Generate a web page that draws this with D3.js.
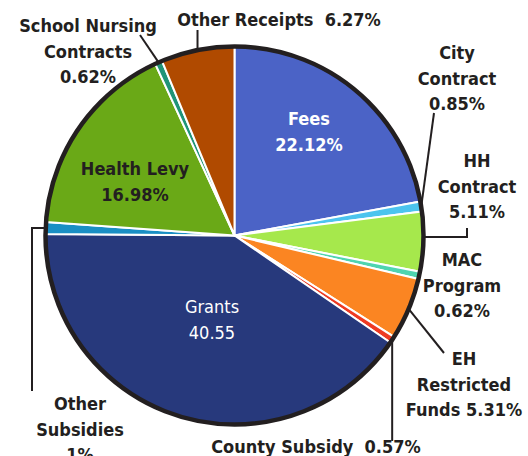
<!DOCTYPE html>
<html>
<head>
<meta charset="utf-8">
<script src="https://cdn.jsdelivr.net/npm/d3@7"></script>
<style>
  body { margin: 0; background: #fff; }
  text { font-family: "DejaVu Sans Condensed", "DejaVu Sans", sans-serif; font-weight: bold; font-size: 18px; fill: #231f20; white-space: pre; }
</style>
</head>
<body>
<svg id="chart" width="528" height="456"></svg>
<script>
// slices, clockwise from 12 o'clock
let names = ["Fees", "City Contract", "HH Contract", "MAC Program", "EH Restricted Funds",
             "County Subsidy", "Grants", "Other Subsidies", "Health Levy",
             "School Nursing Contracts", "Other Receipts"];
let values = [22.12, 0.85, 5.11, 0.62, 5.31, 0.57, 40.55, 1, 16.98, 0.62, 6.27];
let valueLabels = ["22.12%", "0.85%", "5.11%", "0.62%", "5.31%", "0.57%", "40.55", "1%", "16.98%", "0.62%", "6.27%"];
let colors = ["#4b63c6", "#4cc4ee", "#a6e84c", "#4ed4b0", "#fb8522", "#ee3a22",
              "#27397c", "#1a8fc4", "#6aa917", "#1f9478", "#b04a00"];

let svg = d3.select("#chart"),
    cx = 234.5, cy = 235.5, radius = 189;

let g = svg.append("g").attr("transform", "translate(" + cx + "," + cy + ")");

let pie = d3.pie().sort(null).value(d => d);
let arcs = pie(values);
let arc = d3.arc().innerRadius(0).outerRadius(radius);

g.selectAll("path.slice")
    .data(arcs)
    .enter()
    .append("path")
    .attr("class", "slice")
    .attr("d", arc)
    .attr("fill", (d, i) => colors[i])
    .attr("stroke", "#fff")
    .attr("stroke-width", 2)
    .attr("stroke-linejoin", "round");

// black outline
g.append("circle")
    .attr("r", radius)
    .attr("fill", "none")
    .attr("stroke", "#231f20")
    .attr("stroke-width", 4.5);

// point on the rim at the middle of slice i
function rim(i) {
    let a = (arcs[i].startAngle + arcs[i].endAngle) / 2;
    return [cx + radius * Math.sin(a), cy - radius * Math.cos(a)];
}

// label layout: lines of text, x centre, first line y, text colour, leader path end points
let layout = [
    {i: 0, lines: ["Fees", "22.12%"], x: 309, y: 118, fill: "#fff"},
    {i: 1, lines: ["City", "Contract", "0.85%"], x: 457, y: 52, lead: p => [p, [434, 113]]},
    {i: 2, lines: ["HH", "Contract", "5.11%"], x: 477, y: 160, lead: p => [[p[0], 237], [467, 237], [467, 228]]},
    {i: 3, lines: ["MAC", "Program", "0.62%"], x: 462, y: 259},
    {i: 4, lines: ["EH", "Restricted", "Funds 5.31%"], x: 464, y: 358, lead: p => [p, [444, 353]]},
    {i: 5, lines: ["County Subsidy  0.57%"], x: 316, y: 446, lead: p => [p, [p[0], 441]]},
    {i: 6, lines: ["Grants", "40.55"], x: 212, y: 306, fill: "#fff", weight: "normal"},
    {i: 7, lines: ["Other", "Subsidies", "1%"], x: 80, y: 403, lead: p => [p, [32, p[1]], [32, 391]]},
    {i: 8, lines: ["Health Levy", "16.98%"], x: 135, y: 168},
    {i: 9, lines: ["School Nursing", "Contracts", "0.62%"], x: 88, y: 25, lead: p => [p, [140, 35]]},
    {i: 10, lines: ["Other Receipts  6.27%"], x: 279, y: 19, lead: p => [p, [p[0], 30]]}
];

let line = d3.line();

layout.forEach(l => {
    if (l.lead) {
        svg.append("path")
            .attr("d", line(l.lead(rim(l.i))))
            .attr("fill", "none")
            .attr("stroke", "#231f20")
            .attr("stroke-width", 2);
    }
    let t = svg.append("text")
        .attr("text-anchor", "middle")
        .attr("dominant-baseline", "central")
        .style("fill", l.fill || "#231f20")
        .style("font-weight", l.weight || "bold");
    l.lines.forEach((s, k) => {
        t.append("tspan")
            .attr("x", l.x)
            .attr("y", l.y + k * 25.5)
            .text(s);
    });
});
</script>
</body>
</html>
